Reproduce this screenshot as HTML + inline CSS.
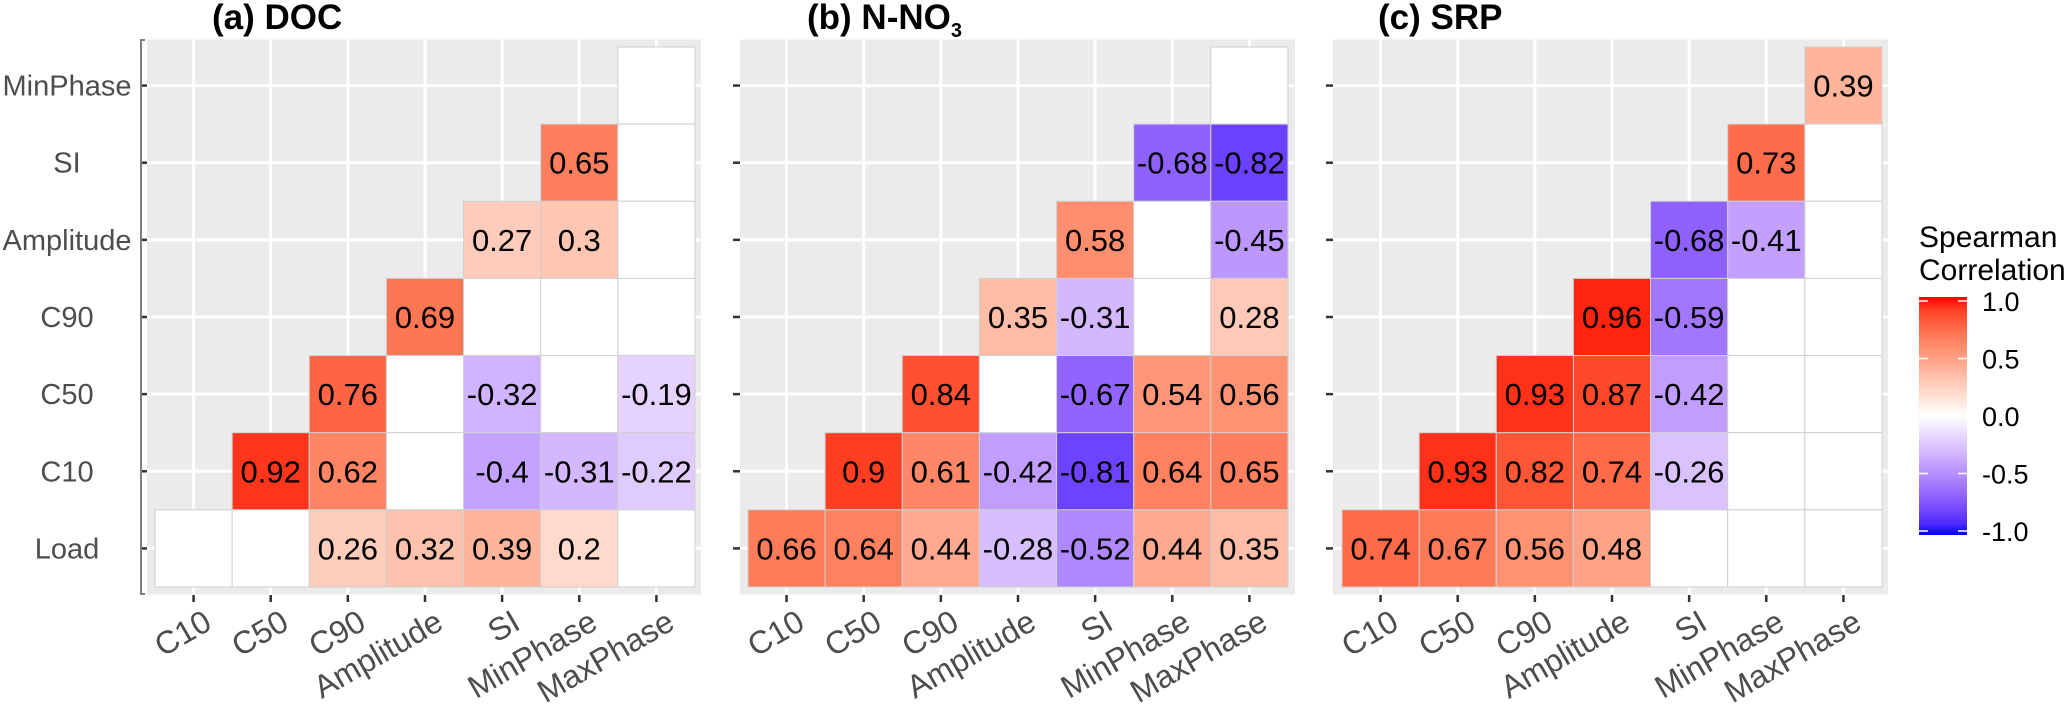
<!DOCTYPE html>
<html><head><meta charset="utf-8"><style>
html,body{margin:0;padding:0;background:#fff;}
svg{display:block;font-family:"Liberation Sans",Arial,sans-serif;}
</style></head><body>
<svg id="chart" width="2067" height="707" viewBox="0 0 2067 707" xmlns="http://www.w3.org/2000/svg"></svg>
<script>
const varsX = ["C10","C50","C90","Amplitude","SI","MinPhase","MaxPhase"];
const varsY = ["MinPhase","SI","Amplitude","C90","C50","C10","Load"];
const titles = ["(a) DOC","(b) N-NO","(c) SRP"];
// values by row (top to bottom), columns from (6-r) to 6; null = NA
const docValues = [
  [null],
  [0.65,null],
  [0.27,0.3,null],
  [0.69,null,null,null],
  [0.76,null,-0.32,null,-0.19],
  [0.92,0.62,null,-0.4,-0.31,-0.22],
  [null,null,0.26,0.32,0.39,0.2,null]
];
const no3Values = [
  [null],
  [-0.68,-0.82],
  [0.58,null,-0.45],
  [0.35,-0.31,null,0.28],
  [0.84,null,-0.67,0.54,0.56],
  [0.9,0.61,-0.42,-0.81,0.64,0.65],
  [0.66,0.64,0.44,-0.28,-0.52,0.44,0.35]
];
const srpValues = [
  [0.39],
  [0.73,null],
  [-0.68,-0.41,null],
  [0.96,-0.59,null,null],
  [0.93,0.87,-0.42,null,null],
  [0.93,0.82,0.74,-0.26,null,null],
  [0.74,0.67,0.56,0.48,null,null,null]
];
const legendTicks = [1.0,0.5,0.0,-0.5,-1.0];

const NS="http://www.w3.org/2000/svg";
const svg=document.getElementById('chart');
function mk(tag,attrs,parent){const e=document.createElementNS(NS,tag);for(const k in attrs)e.setAttribute(k,attrs[k]);(parent||svg).appendChild(e);return e;}

function s2l(c){c/=255;return c<=0.04045?c/12.92:Math.pow((c+0.055)/1.055,2.4);}
function l2s(c){c=c<=0.0031308?12.92*c:1.055*Math.pow(c,1/2.4)-0.055;return Math.max(0,Math.min(255,Math.round(c*255)));}
function toLab(rgb){const r=s2l(rgb[0]),g=s2l(rgb[1]),b=s2l(rgb[2]);
 let X=(0.4124*r+0.3576*g+0.1805*b)/0.95047,Y=(0.2126*r+0.7152*g+0.0722*b),Z=(0.0193*r+0.1192*g+0.9505*b)/1.08883;
 const f=t=>t>0.008856?Math.cbrt(t):7.787*t+16/116;
 return [116*f(Y)-16,500*(f(X)-f(Y)),200*(f(Y)-f(Z))];}
function fromLab(l){const fy=(l[0]+16)/116,fx=fy+l[1]/500,fz=fy-l[2]/200;
 const fi=t=>t*t*t>0.008856?t*t*t:(t-16/116)/7.787;
 const X=fi(fx)*0.95047,Y=fi(fy),Z=fi(fz)*1.08883;
 const r=3.2406*X-1.5372*Y-0.4986*Z,g=-0.9689*X+1.8758*Y+0.0415*Z,b=0.0557*X-0.2040*Y+1.0570*Z;
 return 'rgb('+l2s(r)+','+l2s(g)+','+l2s(b)+')';}
const LW=toLab([255,255,255]),LR=toLab([255,0,0]),LB=toLab([0,0,255]);
function col(v){const t=Math.min(1,Math.abs(v));const e=v>=0?LR:LB;return fromLab([0,1,2].map(i=>LW[i]+(e[i]-LW[i])*t));}

const cell=77.14, top0=47, panelTop=39.5, panelBot=594.5;
const panels=[{gx:147,gw:554,tx:155,title:212,data:docValues},
              {gx:740,gw:555,tx:748,title:807,data:no3Values},
              {gx:1333,gw:555,tx:1342,title:1378,data:srpValues}];
const xs=(p,i)=>p.tx+cell*(i+0.5);
const ys=r=>top0+cell*(r+0.5);

panels.forEach((p,pi)=>{
  const g=mk('g',{});
  
  
  const bg=mk('rect',{x:p.gx,y:panelTop,width:p.gw,height:panelBot-panelTop,fill:'#ebebeb'},g);
  
  
  for(let i=0;i<7;i++){
    mk('line',{x1:xs(p,i),x2:xs(p,i),y1:panelTop,y2:panelBot,stroke:'#fff','stroke-width':3},g);
    mk('line',{x1:p.gx,x2:p.gx+p.gw,y1:ys(i),y2:ys(i),stroke:'#fff','stroke-width':3},g);
  }
  p.data.forEach((row,r)=>{
    row.forEach((v,k)=>{
      const c=(6-r)+k;
      const x=p.tx+cell*c, y=top0+cell*r;
      const t=mk('rect',{x:x,y:y,width:cell,height:cell,fill:v===null?'#ffffff':col(v),stroke:'#cfcfcf','stroke-width':1},g);
      
      
      if(v!==null){
        const tx=mk('text',{x:x+cell/2,y:y+cell/2+11,'text-anchor':'middle','font-size':31,fill:'#000'},g);
        tx.textContent=String(v);
        
        
      }
    });
  });
  for(let i=0;i<7;i++){
    mk('line',{x1:xs(p,i),x2:xs(p,i),y1:595,y2:602,stroke:'#333','stroke-width':2.5},g);
    const lx=xs(p,i)+20, ly=628;
    const t=mk('text',{x:lx,y:ly,'text-anchor':'end','font-size':32,fill:'#4d4d4d',transform:'rotate(-30 '+lx+' '+ly+')'},g);
    t.textContent=varsX[i];
    
    
  }
  for(let r=0;r<7;r++){
    mk('line',{x1:p.gx-7,x2:p.gx,y1:ys(r),y2:ys(r),stroke:'#333','stroke-width':2.5},g);
    if(pi===0){
      const t=mk('text',{x:67,y:ys(r)+10,'text-anchor':'middle','font-size':29,fill:'#4d4d4d'},g);
      t.textContent=varsY[r];
      
      
    }
  }
  if(pi===0){
    mk('path',{d:'M145,40 H141 V594 H145',fill:'none',stroke:'#7f7f7f','stroke-width':2},g);
  }
  const tt=mk('text',{x:p.title,y:29,'font-size':35,'font-weight':'bold',fill:'#000'},g);
  tt.textContent=titles[pi];
  
  
  if(pi===1){
    const s=mk('tspan',{'font-size':20,dy:8},tt);
    s.textContent='3';
  }
});

const lg=mk('g',{});


const defs=mk('defs',{},lg);
const grad=mk('linearGradient',{id:'lgd',x1:0,y1:0,x2:0,y2:1},defs);
for(let i=0;i<=20;i++){const v=1-i/10;mk('stop',{offset:(i/20*100)+'%','stop-color':col(v)},grad);}
const lt1=mk('text',{x:1919,y:247,'font-size':30,fill:'#000'},lg);lt1.textContent='Spearman';


const lt2=mk('text',{x:1919,y:280,'font-size':30,fill:'#000'},lg);lt2.textContent='Correlation';


const barTop=297,barBot=535,barX=1919,barW=48;
const bar=mk('rect',{x:barX,y:barTop,width:barW,height:barBot-barTop,fill:'url(#lgd)'},lg);


const ly=v=>barTop+4+(1-v)/2*(barBot-barTop-8);
legendTicks.forEach(v=>{
  mk('line',{x1:barX,x2:barX+9,y1:ly(v),y2:ly(v),stroke:'#fff','stroke-width':1.5},lg);
  mk('line',{x1:barX+barW-9,x2:barX+barW,y1:ly(v),y2:ly(v),stroke:'#fff','stroke-width':1.5},lg);
  const t=mk('text',{x:1982,y:ly(v)+10,'font-size':27,fill:'#000'},lg);
  t.textContent=v.toFixed(1);
  
  
});
</script>
</body></html>
